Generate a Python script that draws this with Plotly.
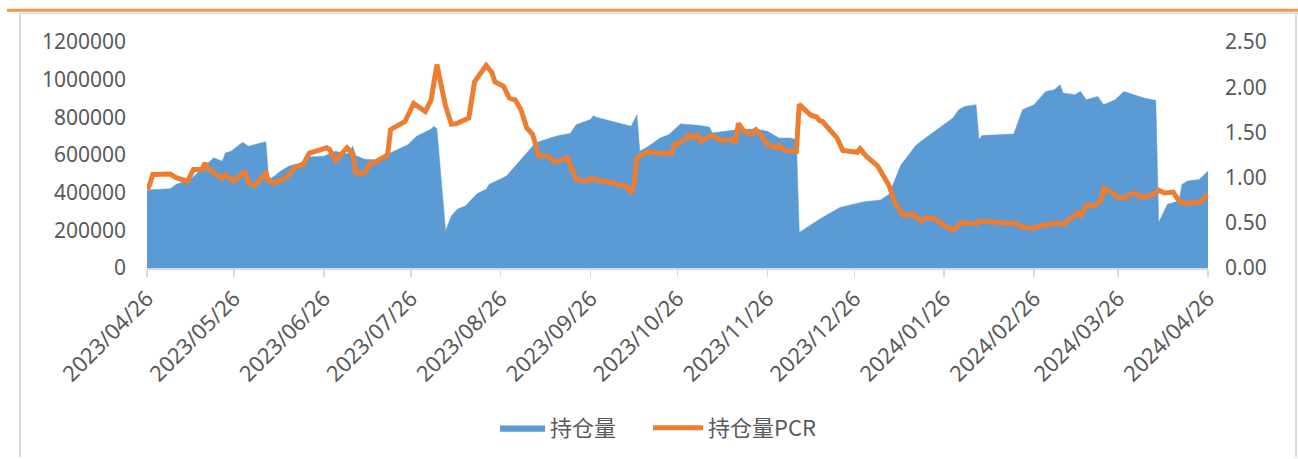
import plotly.graph_objects as go

# 持仓量 (open interest)
oi_dates = [
    "2023-04-26", "2023-04-27", "2023-05-04", "2023-05-06", "2023-05-11", "2023-05-15",
    "2023-05-19", "2023-05-22", "2023-05-23", "2023-05-25", "2023-05-29", "2023-05-31",
    "2023-06-02", "2023-06-06", "2023-06-07", "2023-06-09", "2023-06-11", "2023-06-14",
    "2023-06-18", "2023-06-21", "2023-06-26", "2023-06-30", "2023-07-04", "2023-07-06",
    "2023-07-07", "2023-07-10", "2023-07-14", "2023-07-20", "2023-07-25", "2023-07-28",
    "2023-08-02", "2023-08-03", "2023-08-04", "2023-08-07", "2023-08-09", "2023-08-11",
    "2023-08-14", "2023-08-16", "2023-08-18", "2023-08-21", "2023-08-22", "2023-08-28",
    "2023-09-01", "2023-09-04", "2023-09-07", "2023-09-12", "2023-09-15", "2023-09-19",
    "2023-09-21", "2023-09-26", "2023-09-27", "2023-09-28", "2023-10-10", "2023-10-12",
    "2023-10-13", "2023-10-16", "2023-10-20", "2023-10-23", "2023-10-26", "2023-10-27",
    "2023-11-02", "2023-11-06", "2023-11-07", "2023-11-16", "2023-11-22", "2023-11-26",
    "2023-11-30", "2023-12-04", "2023-12-06", "2023-12-07", "2023-12-14", "2023-12-21",
    "2023-12-29", "2024-01-04", "2024-01-07", "2024-01-09", "2024-01-11", "2024-01-13",
    "2024-01-16", "2024-01-18", "2024-01-22", "2024-01-25", "2024-01-26", "2024-01-29",
    "2024-01-31", "2024-02-02", "2024-02-06", "2024-02-07", "2024-02-08", "2024-02-19",
    "2024-02-22", "2024-02-26", "2024-03-01", "2024-03-04", "2024-03-06", "2024-03-07",
    "2024-03-11", "2024-03-13", "2024-03-15", "2024-03-19", "2024-03-21", "2024-03-25",
    "2024-03-28", "2024-04-02", "2024-04-04", "2024-04-08", "2024-04-09", "2024-04-12",
    "2024-04-16", "2024-04-17", "2024-04-19", "2024-04-23", "2024-04-26",
]
oi_values = [
    408000, 415000, 421000, 444000, 470000, 530000,
    585000, 567000, 611000, 620000, 668000, 647000,
    655000, 671000, 470000, 488000, 514000, 541000,
    558000, 590000, 594000, 620000, 605000, 647000,
    597000, 578000, 575000, 620000, 655000, 700000,
    738000, 752000, 740000, 197000, 276000, 312000,
    330000, 365000, 396000, 418000, 444000, 488000,
    558000, 611000, 664000, 690000, 703000, 714000,
    761000, 788000, 809000, 800000, 752000, 814000,
    620000, 647000, 690000, 708000, 752000, 765000,
    758000, 749000, 717000, 735000, 738000, 726000,
    690000, 690000, 680000, 189000, 259000, 321000,
    351000, 361000, 391000, 470000, 545000, 585000,
    647000, 673000, 717000, 750000, 761000, 796000,
    840000, 858000, 867000, 682000, 703000, 712000,
    840000, 867000, 937000, 946000, 973000, 929000,
    920000, 937000, 893000, 911000, 867000, 893000,
    937000, 914000, 902000, 890000, 241000, 338000,
    356000, 444000, 462000, 470000, 514000,
]

# 持仓量PCR
pcr_dates = [
    "2023-04-26", "2023-04-27", "2023-04-28", "2023-05-04", "2023-05-06", "2023-05-10",
    "2023-05-12", "2023-05-15", "2023-05-16", "2023-05-17", "2023-05-22", "2023-05-23",
    "2023-05-26", "2023-05-29", "2023-05-30", "2023-05-31", "2023-06-02", "2023-06-06",
    "2023-06-07", "2023-06-09", "2023-06-13", "2023-06-16", "2023-06-19", "2023-06-21",
    "2023-06-27", "2023-06-28", "2023-06-30", "2023-07-04", "2023-07-06", "2023-07-07",
    "2023-07-10", "2023-07-12", "2023-07-13", "2023-07-18", "2023-07-19", "2023-07-24",
    "2023-07-27", "2023-07-31", "2023-08-02", "2023-08-04", "2023-08-07", "2023-08-09",
    "2023-08-11", "2023-08-15", "2023-08-17", "2023-08-21", "2023-08-23", "2023-08-24",
    "2023-08-27", "2023-08-29", "2023-08-31", "2023-09-02", "2023-09-04", "2023-09-06",
    "2023-09-07", "2023-09-08", "2023-09-11", "2023-09-14", "2023-09-18", "2023-09-19",
    "2023-09-21", "2023-09-25", "2023-09-26", "2023-10-08", "2023-10-10", "2023-10-11",
    "2023-10-12", "2023-10-14", "2023-10-16", "2023-10-18", "2023-10-24", "2023-10-25",
    "2023-10-26", "2023-10-29", "2023-10-30", "2023-10-31", "2023-11-02", "2023-11-03",
    "2023-11-06", "2023-11-08", "2023-11-10", "2023-11-14", "2023-11-15", "2023-11-16",
    "2023-11-18", "2023-11-20", "2023-11-22", "2023-11-24", "2023-11-26", "2023-11-29",
    "2023-11-30", "2023-12-02", "2023-12-06", "2023-12-07", "2023-12-09", "2023-12-11",
    "2023-12-13", "2023-12-14", "2023-12-15", "2023-12-19", "2023-12-20", "2023-12-22",
    "2023-12-27", "2023-12-28", "2023-12-30", "2024-01-03", "2024-01-07", "2024-01-09",
    "2024-01-11", "2024-01-12", "2024-01-15", "2024-01-18", "2024-01-20", "2024-01-23",
    "2024-01-26", "2024-01-29", "2024-02-01", "2024-02-06", "2024-02-07", "2024-02-20",
    "2024-02-22", "2024-02-26", "2024-02-29", "2024-03-05", "2024-03-07", "2024-03-09",
    "2024-03-12", "2024-03-13", "2024-03-15", "2024-03-18", "2024-03-20", "2024-03-21",
    "2024-03-24", "2024-03-26", "2024-03-28", "2024-03-29", "2024-04-01", "2024-04-03",
    "2024-04-07", "2024-04-09", "2024-04-11", "2024-04-14", "2024-04-16", "2024-04-19",
    "2024-04-24", "2024-04-26",
]
pcr_values = [
    0.86, 0.93, 1.035, 1.04, 1.00, 0.96,
    1.09, 1.09, 1.16, 1.10, 0.99, 1.03,
    0.96, 1.05, 1.05, 0.94, 0.91, 1.05,
    0.96, 0.94, 1.00, 1.11, 1.15, 1.27,
    1.33, 1.31, 1.19, 1.33, 1.26, 1.05,
    1.05, 1.16, 1.16, 1.25, 1.53, 1.62,
    1.82, 1.73, 1.86, 2.25, 1.79, 1.59,
    1.60, 1.66, 2.06, 2.24, 2.16, 2.06,
    2.01, 1.88, 1.86, 1.75, 1.55, 1.48,
    1.37, 1.24, 1.24, 1.17, 1.22, 1.13,
    0.98, 0.96, 0.99, 0.91, 0.84, 0.93,
    1.22, 1.26, 1.29, 1.27, 1.27, 1.37,
    1.37, 1.44, 1.47, 1.44, 1.47, 1.40,
    1.46, 1.45, 1.41, 1.42, 1.38, 1.60,
    1.51, 1.48, 1.53, 1.46, 1.37, 1.33,
    1.355, 1.30, 1.29, 1.81, 1.75, 1.69,
    1.67, 1.63, 1.62, 1.46, 1.44, 1.30,
    1.28, 1.32, 1.24, 1.13, 0.91, 0.72,
    0.61, 0.58, 0.60, 0.52, 0.56, 0.54,
    0.47, 0.42, 0.50, 0.49, 0.52, 0.49,
    0.45, 0.44, 0.47, 0.50, 0.48, 0.53,
    0.61, 0.58, 0.69, 0.69, 0.74, 0.88,
    0.83, 0.78, 0.77, 0.80, 0.83, 0.78,
    0.81, 0.86, 0.83, 0.84, 0.74, 0.71,
    0.74, 0.82,
]

tick_dates = [
    "2023-04-26", "2023-05-26", "2023-06-26", "2023-07-26", "2023-08-26", "2023-09-26",
    "2023-10-26", "2023-11-26", "2023-12-26", "2024-01-26", "2024-02-26", "2024-03-26",
    "2024-04-26",
]

BLUE = "#5B9BD5"
ORANGE = "#ED7D31"
GREY_TXT = "#595959"
GREY_LINE = "#D9D9D9"
FONT = "Noto Sans, Noto Sans CJK SC, sans-serif"
LEG_FONT = dict(family="Noto Sans CJK SC, Noto Sans, sans-serif", size=22, color=GREY_TXT)

fig = go.Figure()
fig.add_trace(go.Scatter(
    x=oi_dates, y=oi_values, name="持仓量", mode="lines",
    fill="tozeroy", fillcolor=BLUE, line=dict(color=BLUE, width=0.5),
    yaxis="y", hoverinfo="skip", legend="legend",
))
fig.add_trace(go.Scatter(
    x=pcr_dates, y=pcr_values, name="持仓量PCR", mode="lines",
    line=dict(color=ORANGE, width=5), yaxis="y2", hoverinfo="skip", legend="legend2",
))

W, H = 1298, 459
L, R, T, B = 147, 90, 42, 190
pw, ph = W - L - R, H - T - B

def px(xpix):
    return (xpix - L) / pw

def py(ypix):
    return (H - B - ypix) / ph

shapes = [
    # chart frame (partially visible)
    dict(type="line", xref="paper", yref="paper", x0=px(20), x1=px(20), y0=py(13), y1=py(459),
         line=dict(color=GREY_LINE, width=2)),
    dict(type="line", xref="paper", yref="paper", x0=px(1296), x1=px(1296), y0=py(13), y1=py(459),
         line=dict(color=GREY_LINE, width=2)),
    dict(type="line", xref="paper", yref="paper", x0=px(20), x1=px(1298), y0=py(13), y1=py(13),
         line=dict(color=GREY_LINE, width=1.5)),
    dict(type="line", xref="paper", yref="paper", x0=px(7), x1=px(1298), y0=py(10), y1=py(10),
         line=dict(color="#F79646", width=3)),
]

fig.update_layout(
    width=W, height=H,
    margin=dict(l=L, r=R, t=T, b=B, pad=0),
    paper_bgcolor="white", plot_bgcolor="white",
    font=dict(family=FONT, color=GREY_TXT, size=20),
    showlegend=True,
    legend=dict(
        orientation="h", x=px(495), xanchor="left", y=py(428), yanchor="middle",
        font=LEG_FONT, itemwidth=45, bgcolor="rgba(0,0,0,0)",
    ),
    legend2=dict(
        orientation="h", x=px(648), xanchor="left", y=py(428), yanchor="middle",
        font=LEG_FONT, itemwidth=50, bgcolor="rgba(0,0,0,0)",
    ),
    xaxis=dict(
        type="date", range=["2023-04-26", "2024-04-26"],
        tickvals=tick_dates, tickformat="%Y/%m/%d", tickangle=-45,
        showgrid=False, zeroline=False, showline=True, linecolor=GREY_LINE, linewidth=2,
        ticks="outside", ticklen=7, tickwidth=1.5, tickcolor=GREY_LINE,
        tickfont=dict(family=FONT, size=22, color=GREY_TXT),
    ),
    yaxis=dict(
        range=[0, 1200000], dtick=200000, tick0=0, tickformat="d",
        showgrid=False, zeroline=False, showline=False, ticks="",
        ticklabelstandoff=20,
        tickfont=dict(family=FONT, size=21, color=GREY_TXT),
    ),
    yaxis2=dict(
        range=[0, 2.5], dtick=0.5, tick0=0, tickformat=".2f",
        overlaying="y", side="right",
        showgrid=False, zeroline=False, showline=False, ticks="",
        ticklabelstandoff=16,
        tickfont=dict(family=FONT, size=21, color=GREY_TXT),
    ),
    shapes=shapes,
    hovermode=False,
)

fig.write_html(
    "out.html",
    config={"displayModeBar": False, "staticPlot": True},
    post_script="document.body.style.margin='0';document.body.style.overflow='hidden';",
)
